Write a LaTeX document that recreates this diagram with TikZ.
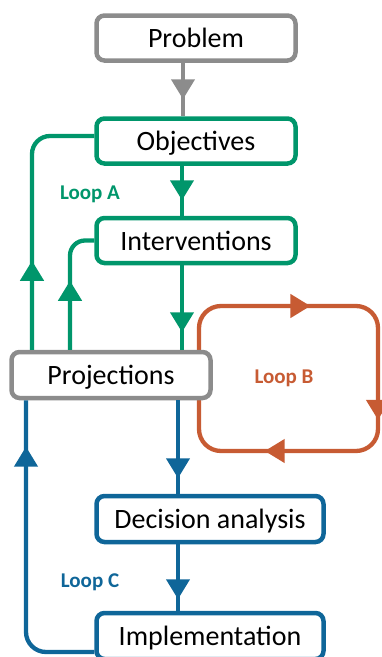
\documentclass[tikz,border=0pt]{standalone}
\usepackage{fontspec}
\setmainfont{Carlito}
\usetikzlibrary{arrows.meta,decorations.markings}
\definecolor{cgray}{HTML}{8C8C8C}
\definecolor{cgreen}{HTML}{00966B}
\definecolor{cblue}{HTML}{0F6699}
\definecolor{corange}{HTML}{C75B33}
\begin{document}
\begin{tikzpicture}[x=1pt,y=-1pt,
  box/.style={draw, line width=4.5pt, rounded corners=8pt, fill=white, inner sep=0pt,
    minimum height=45pt, text height=22pt, text depth=3pt, font=\fontsize{28}{30}\selectfont},
  conn/.style={line width=4.3pt},
  tipmark/.style={postaction={decorate}, decoration={markings,
    mark=at position #1 with {\arrow{Triangle[length=20pt,width=23pt]}}}},
  lbl/.style={font=\bfseries\fontsize{21}{24}\selectfont}]
\useasboundingbox (0,0) rectangle (382,657);

% Loop B (behind the Projections box)
\draw[conn, corange, rounded corners=22pt,
  postaction={decorate}, decoration={markings,
    mark=at position 154pt with {\arrow{Triangle[length=20pt,width=23pt]}},
    mark=at position 326pt with {\arrow{Triangle[length=20pt,width=23pt]}},
    mark=at position 461pt with {\arrow{Triangle[length=20pt,width=23pt]}}}]
  (199,380) -- (199,306) -- (378,306) -- (378,451) -- (199,451) -- cycle;

% boxes
\node[box, draw=cgray,  minimum width=199pt] (prob)   at (196,38)    {Problem};
\node[box, draw=cgreen, minimum width=199pt] (obj)    at (196,141)   {Objectives};
\node[box, draw=cgreen, minimum width=199pt] (interv) at (196,240.5) {Interventions};
\node[box, draw=cgray,  minimum width=199pt, minimum height=46pt] (proj) at (111,375) {Projections};
\node[box, draw=cblue,  minimum width=227pt, minimum height=46pt] (dec)  at (210,519) {Decision analysis};
\node[box, draw=cblue,  minimum width=227pt, minimum height=46pt] (impl) at (210,636) {Implementation};

% connectors
\draw[conn, cgray,  tipmark=36.5pt] ([xshift=-13pt]prob.south) -- ([xshift=-13pt]obj.north);
\draw[conn, cgreen, tipmark=34.5pt] ([xshift=-14pt]obj.south) -- ([xshift=-14pt]interv.north);
\draw[conn, cgreen, tipmark=67pt] ([xshift=-14pt]interv.south) -- ([xshift=71pt]proj.north);
\draw[conn, cgreen, rounded corners=18pt, tipmark=89pt] ([xshift=-79pt]proj.north) |- ([yshift=5pt]obj.west);
\draw[conn, cgreen, rounded corners=15pt, tipmark=69pt] ([xshift=-41pt]proj.north) |- (interv.west);
\draw[conn, cblue,  tipmark=78pt] ([xshift=67pt]proj.south) -- ([xshift=-32pt]dec.north);
\draw[conn, cblue,  tipmark=55pt] ([xshift=-32pt]dec.south) -- ([xshift=-32pt]impl.north);
\draw[conn, cblue,  rounded corners=20pt, tipmark=265pt] ([yshift=-16pt]impl.west) -| ([xshift=-85pt]proj.south);

% labels
\node[lbl, text=cgreen]  (la) at (90,194)  {Loop A};
\node[lbl, text=corange] (lb) at (284,378) {Loop B};
\node[lbl, text=cblue]   (lc) at (90,582)  {Loop C};
\end{tikzpicture}
\end{document}
